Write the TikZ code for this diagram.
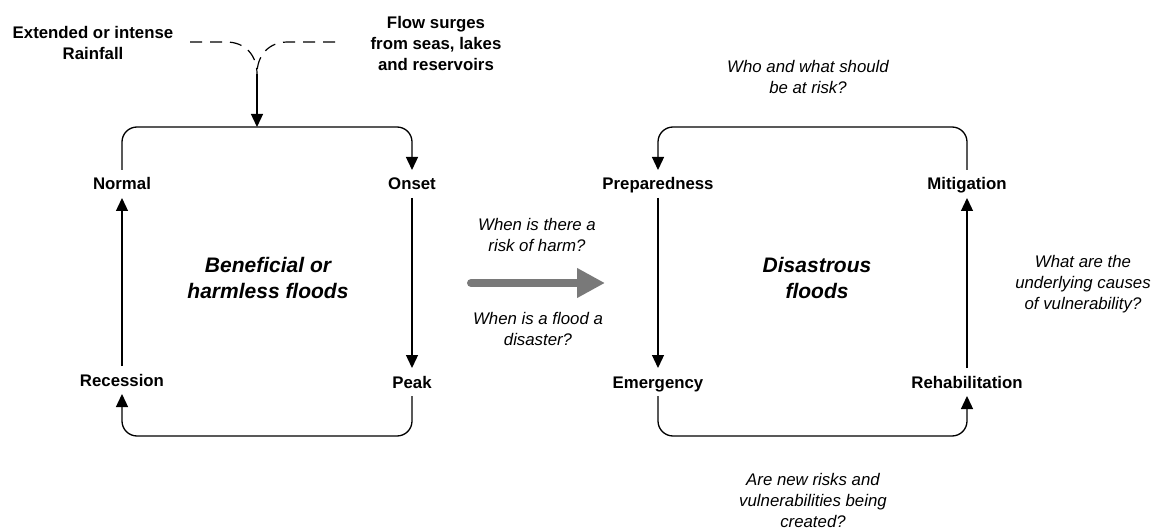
\documentclass[tikz,border=0pt]{standalone}
\usepackage{fontspec}
\setmainfont{Liberation Sans}
\usetikzlibrary{arrows.meta}
\begin{document}
\begin{tikzpicture}[x=1pt,y=-1pt,
  lbl/.style={font=\fontsize{16.8}{21}\selectfont\bfseries, text height=12pt, text depth=0pt, inner xsep=2pt, inner ysep=8pt, outer sep=0pt, anchor=center},
  src/.style={font=\fontsize{16.8}{21}\selectfont\bfseries, align=center, inner sep=0pt},
  q/.style={font=\fontsize{16.8}{21}\selectfont\itshape, align=center, inner sep=0pt},
  title/.style={font=\fontsize{21}{26}\selectfont\bfseries\itshape, align=center, inner sep=0pt},
  conn/.style={line width=1.3pt, black},
  arr/.style={conn, -{Triangle[width=12pt,length=13pt]}},
  loop/.style={arr, rounded corners=15pt},
  dsh/.style={line width=1.2pt, dash pattern=on 12pt off 8pt},
  bigarrow/.style={line width=8pt, color=gray!95!black, line cap=round, -{Triangle[width=28pt,length=28pt]}}
]
\useasboundingbox (0,0) rectangle (1156,529);

% ---------- left cycle ----------
\node[lbl] (normal) at (122,184) {Normal};
\node[lbl] (onset) at (412,184) {Onset};
\node[lbl] (peak) at (412,382) {Peak};
\node[lbl] (recession) at (122,380) {Recession};
\node[title] (benef) at (268,278) {Beneficial or\\harmless floods};

\coordinate (ltop) at (257,127);
\coordinate (lbot) at (267,436);
\draw[loop] (normal.north) |- (ltop) -| (onset.north);
\draw[arr] (onset.south) -- (peak.north);
\draw[loop] (peak.south) |- (lbot) -| (recession.south);
\draw[arr] (recession.north) -- (normal.south);

% ---------- sources ----------
\node[src] (rain) at (93,43) {Extended or intense\\Rainfall};
\node[src] (surge) at (436,43) {Flow surges\\from seas, lakes\\and reservoirs};
\coordinate (rainend) at (190,42);
\coordinate (surgeend) at (335,42);
\coordinate (join) at (257,74);
\draw[dsh] (rainend) -- (226,42) .. controls (246,42) and (257,56) .. (join);
\draw[dsh] (surgeend) -- (288,42) .. controls (268,42) and (257,56) .. (join);
\draw[arr] (join) -- (ltop);

% ---------- transition ----------
\coordinate (gstart) at (471,283);
\coordinate (gend) at (605,283);
\draw[bigarrow] (gstart) -- (gend);
\node[q] (harm) at (537,235) {When is there a\\risk of harm?};
\node[q] (disaster) at (538,329) {When is a flood a\\disaster?};

% ---------- right cycle ----------
\node[lbl] (prep) at (658,184) {Preparedness};
\node[lbl] (mitig) at (967,184) {Mitigation};
\node[lbl] (emerg) at (658,382) {Emergency};
\node[lbl] (rehab) at (967,382) {Rehabilitation};
\node[title] (disas) at (817,278) {Disastrous\\floods};

\coordinate (rtop) at (812,127);
\coordinate (rbot) at (812,436);
\draw[loop] (mitig.north) |- (rtop) -| (prep.north);
\draw[arr] (prep.south) -- (emerg.north);
\draw[loop] (emerg.south) |- (rbot) -| (rehab.south);
\draw[arr] (rehab.north) -- (mitig.south);

\node[q] (who) at (808,77) {Who and what should\\be at risk?};
\node[q] (causes) at (1083,284) {What are the\\underlying causes\\of vulnerability?};
\node[q] (newrisk) at (813,500) {Are new risks and\\vulnerabilities being\\created?};
\end{tikzpicture}
\end{document}
